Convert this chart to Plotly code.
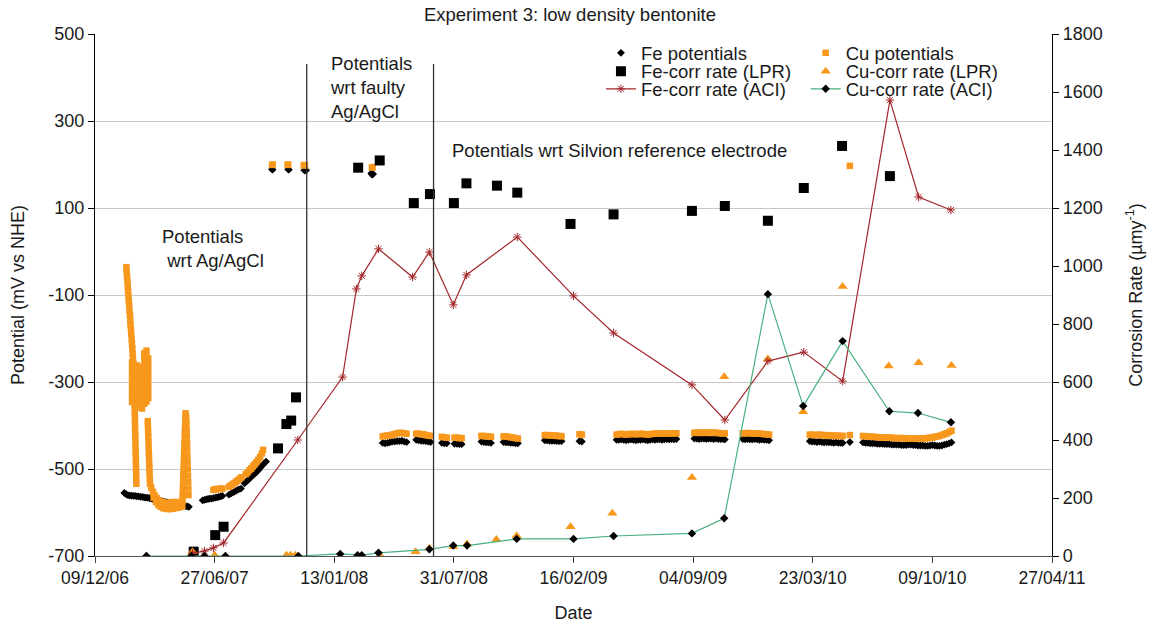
import pandas as pd
import plotly.graph_objects as go

# Day 0 of the potential logs = first date on the time axis (09/12/06)
LOG_ORIGIN = pd.Timestamp("2006-12-09")

# ---------------- Electrode potentials, (day, mV vs NHE) ----------------
# Fe electrode, measured against Ag/AgCl
FE_POT_AGCL = [
    (49, -555), (52, -558), (55, -560), (58, -561), (61, -561), (64, -562), (67, -562),
    (70, -563), (73, -563), (76, -564), (79, -564), (82, -565), (85, -566), (88, -566),
    (91, -567), (94, -568), (97, -569), (100, -570), (103, -571), (106, -572), (109, -573),
    (112, -574), (115, -575), (118, -576), (121, -577), (124, -578), (127, -578), (130, -579),
    (133, -580), (136, -581), (139, -581), (142, -582), (145, -583), (148, -584), (151, -585),
    (154, -586), (157, -587),
    (180, -572), (183, -571), (186, -570), (189, -569), (192, -568), (195, -568), (198, -567),
    (201, -566), (204, -565), (207, -564), (210, -563), (213, -562),
    (224, -559), (228, -556), (232, -553), (236, -550), (240, -547), (244, -545),
    (250, -533), (253, -529), (256, -525), (259, -521), (262, -517), (265, -513), (268, -510),
    (271, -506), (274, -501), (277, -496), (280, -491), (283, -487), (286, -483),
]
# Fe electrode, faulty Ag/AgCl reference
FE_POT_FAULTY = [
    (296, 189), (297, 188), (323, 189), (324, 188), (350, 187), (351, 186), (353, 187),
    (462, 180), (463, 177), (465, 178),
]
# Fe electrode, Silvion reference
FE_POT_SILVION = [
    (481, -440), (485, -441), (489, -440), (493, -439), (497, -437), (501, -437), (505, -436),
    (509, -436), (513, -435), (517, -437), (521, -438),
    (537, -433), (541, -434), (545, -435), (549, -435), (553, -436), (557, -437), (561, -438),
    (580, -440), (584, -441), (588, -441),
    (601, -442), (605, -442), (609, -443), (613, -443),
    (646, -437), (650, -438), (654, -439), (658, -439), (662, -440),
    (683, -438), (687, -439), (691, -439), (695, -440), (699, -440), (703, -441), (707, -441),
    (752, -434), (756, -434), (760, -435), (764, -435), (768, -435), (772, -436), (776, -436),
    (780, -436),
    (810, -436), (814, -437),
    (872, -433), (876, -433), (880, -432), (884, -433), (888, -434), (892, -433), (896, -432),
    (900, -433), (904, -434), (908, -433), (912, -433), (916, -432), (920, -433), (924, -434),
    (928, -433), (932, -432), (936, -433), (940, -432), (944, -432), (948, -433), (952, -432),
    (956, -431), (960, -432), (964, -431), (968, -432), (972, -431),
    (1002, -430), (1006, -430), (1010, -431), (1014, -430), (1018, -430), (1022, -431),
    (1026, -430), (1030, -430), (1034, -431), (1038, -430), (1042, -431), (1046, -431),
    (1050, -431), (1053, -432),
    (1083, -431), (1087, -432), (1091, -431), (1095, -432), (1099, -432), (1103, -431),
    (1107, -432), (1111, -433), (1115, -432), (1119, -433), (1123, -433), (1127, -434),
    (1195, -436), (1199, -437), (1203, -437), (1207, -438), (1211, -437), (1215, -438),
    (1219, -439), (1223, -438), (1227, -439), (1231, -439), (1235, -440), (1239, -439),
    (1243, -440), (1247, -440), (1250, -440),
    (1262, -438),
    (1284, -439), (1288, -440), (1292, -440), (1296, -441), (1300, -441), (1304, -441),
    (1308, -442), (1312, -442), (1316, -442), (1320, -443), (1324, -443), (1328, -443),
    (1332, -444), (1336, -444), (1340, -444), (1344, -444), (1348, -445), (1352, -445),
    (1356, -445), (1360, -444), (1364, -444), (1368, -445), (1372, -445), (1376, -446),
    (1380, -446), (1384, -446), (1388, -447), (1392, -447), (1396, -446), (1400, -445),
    (1404, -446), (1408, -447), (1412, -447), (1416, -446), (1420, -444), (1424, -443),
    (1428, -441), (1432, -439),
]

# Cu electrode, measured against Ag/AgCl (hourly logging in the first months)
CU_POT_AGCL = [
    (52.5, -36), (53.0, -47), (53.6, -58), (54.2, -69), (54.8, -80), (55.3, -91), (55.9, -102),
    (56.5, -113), (57.1, -124), (57.7, -135), (58.3, -146), (58.9, -157), (59.4, -168),
    (60.0, -179), (60.6, -190), (61.2, -201), (61.8, -212), (62.4, -223), (62.9, -234),
    (63.5, -245),
    (64.5, -258), (64.8, -270), (65.0, -282), (65.2, -294), (65.4, -306), (65.6, -318),
    (65.8, -330), (66.0, -342), (66.2, -354), (66.4, -366), (66.6, -378), (66.8, -390),
    (67.0, -402), (67.2, -414), (67.4, -426), (67.6, -438), (67.8, -450), (68.0, -462),
    (68.2, -474), (68.4, -486), (68.6, -498), (68.8, -510), (69.0, -522), (69.2, -534),
    (62, -255), (62, -268), (62, -281), (62, -294), (62, -307), (62, -320), (62, -333), (62, -346),
    (70.5, -262), (70.5, -275), (70.5, -288), (70.5, -301), (70.5, -314), (70.5, -327),
    (70.5, -340), (70.5, -352),
    (74.5, -266), (74.5, -279), (74.5, -292), (74.5, -305), (74.5, -318), (74.5, -331),
    (74.5, -344), (74.5, -357),
    (78.5, -270), (78.5, -283), (78.5, -296), (78.5, -309), (78.5, -322), (78.5, -335),
    (78.5, -348), (78.5, -361),
    (82.5, -234), (82.5, -247), (82.5, -260), (82.5, -273), (82.5, -286), (82.5, -299),
    (82.5, -312), (82.5, -325), (82.5, -338), (82.5, -350),
    (86, -228), (86, -241), (86, -254), (86, -267), (86, -280), (86, -293), (86, -306),
    (86, -319), (86, -332), (86, -345),
    (89, -246), (89, -259), (89, -272), (89, -285), (89, -298), (89, -311), (89, -324), (89, -337),
    (88.2, -390), (88.5, -402), (88.8, -414), (89.1, -426), (89.4, -438), (89.7, -450),
    (90.0, -462), (90.3, -474), (90.6, -486), (90.9, -498), (91.2, -510), (91.6, -522),
    (92.0, -534),
    (94, -543), (97, -553), (100, -561), (103, -567), (107, -572), (111, -575), (115, -577),
    (119, -578), (123, -578), (127, -577), (131, -576), (135, -576), (139, -577), (143, -578),
    (98, -566), (102, -576), (106, -583), (110, -587), (114, -590), (118, -591), (122, -592),
    (126, -592), (130, -591), (134, -590), (138, -589), (142, -588),
    (146.0, -585), (146.3, -573), (146.6, -561), (146.9, -549), (147.2, -537), (147.5, -525),
    (147.8, -513), (148.1, -501), (148.4, -489), (148.7, -477), (149.0, -465), (149.3, -453),
    (149.6, -441), (149.9, -429), (150.2, -417), (150.5, -405), (150.8, -393), (151.1, -381),
    (151.4, -372),
    (152.5, -380), (153.0, -395), (153.3, -410), (153.6, -425), (153.9, -440), (154.2, -455),
    (154.5, -470), (154.8, -485), (155.1, -500), (155.4, -515), (155.7, -530), (156.0, -545),
    (156.3, -560),
    (198, -548), (201, -547), (204, -546), (207, -546), (210, -545), (213, -545),
    (224, -541), (227, -538), (230, -535), (233, -532), (236, -529), (239, -526), (242, -522),
    (245, -519),
    (252, -512), (255, -508), (258, -503), (261, -499), (264, -494), (267, -489), (270, -484),
    (273, -479), (276, -472), (279, -464), (281, -456),
]
# Cu electrode, faulty Ag/AgCl reference
CU_POT_FAULTY = [
    (296, 199), (297, 200), (322, 199), (323, 200), (349, 198), (350, 199), (351, 198),
    (463, 193), (464, 194),
]
# Cu electrode, Silvion reference
CU_POT_SILVION = [
    (481, -425), (485, -424), (489, -423), (493, -423), (497, -421), (501, -420), (505, -418),
    (509, -417), (513, -417), (517, -418), (521, -419),
    (537, -419), (541, -419), (545, -420), (549, -420), (553, -422), (557, -423), (561, -424),
    (580, -426), (584, -427), (588, -428),
    (601, -428), (605, -428), (609, -429), (613, -429),
    (646, -424), (650, -424), (654, -425), (658, -425), (662, -426),
    (683, -425), (687, -425), (691, -426), (695, -427), (699, -428), (703, -429), (707, -430),
    (752, -422), (756, -422), (760, -423), (764, -423), (768, -423), (772, -424), (776, -424),
    (780, -425),
    (810, -420), (814, -421),
    (872, -421), (876, -420), (880, -419), (884, -420), (888, -421), (892, -420), (896, -419),
    (900, -420), (904, -420), (908, -419), (912, -420), (916, -419), (920, -420), (924, -421),
    (928, -420), (932, -419), (936, -419), (940, -418), (944, -419), (948, -419), (952, -418),
    (956, -418), (960, -419), (964, -418), (968, -418), (972, -418),
    (1002, -417), (1006, -416), (1010, -417), (1014, -417), (1018, -416), (1022, -416),
    (1026, -417), (1030, -417), (1034, -416), (1038, -417), (1042, -417), (1046, -418),
    (1050, -418), (1053, -418),
    (1083, -418), (1087, -418), (1091, -417), (1095, -418), (1099, -418), (1103, -419),
    (1107, -418), (1111, -419), (1115, -419), (1119, -420), (1123, -420), (1127, -421),
    (1195, -421), (1199, -421), (1203, -422), (1207, -422), (1211, -421), (1215, -422),
    (1219, -423), (1223, -422), (1227, -423), (1231, -423), (1235, -424), (1239, -423),
    (1243, -424), (1247, -424), (1250, -424),
    (1262, -422), (1262, 197),
    (1284, -424), (1288, -425), (1292, -425), (1296, -426), (1300, -426), (1304, -426),
    (1308, -427), (1312, -427), (1316, -427), (1320, -428), (1324, -428), (1328, -428),
    (1332, -428), (1336, -429), (1340, -429), (1344, -429), (1348, -429), (1352, -429),
    (1356, -430), (1360, -430), (1364, -430), (1368, -430), (1372, -430), (1376, -430),
    (1380, -430), (1384, -430), (1388, -430), (1392, -429), (1396, -428), (1400, -428),
    (1404, -426), (1408, -425), (1412, -424), (1416, -422), (1420, -420), (1424, -418),
    (1428, -415), (1432, -412),
]

# ---------------- Corrosion rates (µm/y) ----------------
FE_LPR_DATES = [
    "2007-05-23", "2007-06-28", "2007-07-12", "2007-10-11", "2007-10-25", "2007-11-02",
    "2007-11-10", "2008-02-22", "2008-03-29", "2008-05-25", "2008-06-21", "2008-07-31",
    "2008-08-21", "2008-10-11", "2008-11-14", "2009-02-11", "2009-04-24", "2009-09-02",
    "2009-10-27", "2010-01-07", "2010-03-08", "2010-05-11", "2010-07-30",
]
FE_LPR = [15, 72, 101, 371, 455, 467, 547, 1339, 1364, 1217, 1248, 1217,
          1285, 1277, 1253, 1145, 1178, 1190, 1207, 1156, 1269, 1414, 1310]

CU_LPR_DATES = [
    "2007-03-05", "2007-05-21", "2007-06-27", "2007-10-25", "2007-11-01", "2007-11-09",
    "2008-02-21", "2008-03-29", "2008-05-28", "2008-06-20", "2008-07-30", "2008-08-22",
    "2008-10-10", "2008-11-13", "2009-02-11", "2009-04-22", "2009-09-02", "2009-10-26",
    "2010-01-07", "2010-03-07", "2010-05-12", "2010-07-28", "2010-09-16", "2010-11-10",
]
CU_LPR = [0, 15, 3, 3, 3, 3, 0, 3, 15, 27, 32, 41,
          57, 70, 101, 147, 271, 618, 679, 497, 929, 655, 666, 657]

FE_ACI_DATES = [
    "2007-05-21", "2007-06-10", "2007-06-25", "2007-07-12", "2007-11-13", "2008-01-27",
    "2008-02-19", "2008-02-28", "2008-03-27", "2008-05-23", "2008-06-20", "2008-07-30",
    "2008-08-21", "2008-11-14", "2009-02-16", "2009-04-24", "2009-09-02", "2009-10-27",
    "2010-01-07", "2010-03-08", "2010-05-12", "2010-07-30", "2010-09-16", "2010-11-09",
]
FE_ACI = [10, 17, 28, 45, 400, 617, 921, 966, 1059, 962, 1048, 866,
          969, 1100, 897, 769, 590, 469, 672, 703, 603, 1572, 1238, 1193]

CU_ACI_DATES = [
    "2007-03-05", "2007-05-19", "2007-06-10", "2007-07-15", "2007-11-14", "2008-01-23",
    "2008-02-21", "2008-02-28", "2008-03-27", "2008-06-20", "2008-07-30", "2008-08-22",
    "2008-11-13", "2009-02-16", "2009-04-24", "2009-09-02", "2009-10-26", "2010-01-07",
    "2010-03-07", "2010-05-12", "2010-07-29", "2010-09-15", "2010-11-09",
]
CU_ACI = [0, 0, 0, 0, 0, 7, 3, 3, 11, 23, 36, 36,
          59, 59, 69, 78, 130, 903, 517, 741, 499, 493, 461]

# Dates at which the reference electrode was changed
REFERENCE_CHANGES = ["2007-11-28", "2008-06-27"]

X_TICK_DATES = ["2006-12-09", "2007-06-27", "2008-01-13", "2008-07-31", "2009-02-16",
                "2009-09-04", "2010-03-23", "2010-10-09", "2011-04-27"]
X_TICK_LABELS = ["09/12/06", "27/06/07", "13/01/08", "31/07/08", "16/02/09",
                 "04/09/09", "23/03/10", "09/10/10", "27/04/11"]
Y_TICKS = [-700, -500, -300, -100, 100, 300, 500]
Y_TICK_LABELS = ["-700", "-500", "-300", "-100", "100", "300", "500"]

FONT = "Liberation Sans, Arial, sans-serif"
TEXT = "#1a1a1a"
ORANGE = "#F7981D"
DARK_RED = "#A3262A"
GREEN = "#48B07E"


def log_xy(*segments):
    pairs = [p for seg in segments for p in seg]
    days = [p[0] for p in pairs]
    vals = [p[1] for p in pairs]
    return LOG_ORIGIN + pd.to_timedelta(days, unit="D"), vals


fig = go.Figure()

fe_x, fe_y = log_xy(FE_POT_AGCL, FE_POT_FAULTY, FE_POT_SILVION)
cu_x, cu_y = log_xy(CU_POT_AGCL, CU_POT_FAULTY, CU_POT_SILVION)

fig.add_trace(go.Scatter(
    x=fe_x, y=fe_y, mode="markers", name="Fe potentials", legend="legend",
    marker=dict(symbol="diamond", size=6, color="black"),
))
fig.add_trace(go.Scatter(
    x=cu_x, y=cu_y, mode="markers", name="Cu potentials", legend="legend2",
    marker=dict(symbol="square", size=6.5, color=ORANGE),
))
fig.add_trace(go.Scatter(
    x=FE_LPR_DATES, y=FE_LPR, mode="markers", name="Fe-corr rate (LPR)", yaxis="y2",
    legend="legend3", marker=dict(symbol="square", size=10, color="black"),
))
fig.add_trace(go.Scatter(
    x=CU_LPR_DATES, y=CU_LPR, mode="markers", name="Cu-corr rate (LPR)", yaxis="y2",
    legend="legend4", marker=dict(symbol="triangle-up", size=9, color=ORANGE),
))
fig.add_trace(go.Scatter(
    x=FE_ACI_DATES, y=FE_ACI, mode="lines+markers", name="Fe-corr rate (ACI)", yaxis="y2",
    legend="legend5", line=dict(color=DARK_RED, width=1.2),
    marker=dict(symbol="asterisk-open", size=7, color=DARK_RED, line=dict(width=1, color=DARK_RED)),
))
fig.add_trace(go.Scatter(
    x=CU_ACI_DATES, y=CU_ACI, mode="lines+markers", name="Cu-corr rate (ACI)", yaxis="y2",
    legend="legend6", line=dict(color=GREEN, width=1.2),
    marker=dict(symbol="diamond", size=6.5, color="black"),
))

for d in REFERENCE_CHANGES:
    fig.add_shape(type="line", xref="x", yref="y", x0=d, x1=d, y0=-700, y1=431,
                  line=dict(color="#333333", width=1.3))

ann_font = dict(family=FONT, size=18.5, color=TEXT)
fig.add_annotation(text="Potentials<br>\u00a0wrt Ag/AgCl", xref="paper", yref="paper",
                   x=0.0679, y=0.5891, xanchor="left", yanchor="middle", align="left",
                   showarrow=False, font=ann_font)
fig.add_annotation(text="Potentials<br>wrt faulty<br>Ag/AgCl", xref="paper", yref="paper",
                   x=0.2438, y=0.8979, xanchor="left", yanchor="middle", align="left",
                   showarrow=False, font=ann_font)
fig.add_annotation(text="Potentials wrt Silvion reference electrode", xref="paper", yref="paper",
                   x=0.3710, y=0.7759, xanchor="left", yanchor="middle", align="left",
                   showarrow=False, font=ann_font)

legend_common = dict(xanchor="left", yanchor="middle", bgcolor="rgba(0,0,0,0)",
                     borderwidth=0, font=dict(family=FONT, size=18.5, color=TEXT))
col_fe, col_cu = 0.5287, 0.7426
row_y = [0.9630, 0.9278, 0.8941]

fig.update_layout(
    width=1152, height=628,
    margin=dict(l=95, r=100, t=34, b=72, autoexpand=False),
    paper_bgcolor="white", plot_bgcolor="white",
    font=dict(family=FONT, size=18, color=TEXT),
    showlegend=True,
    title=dict(text="Experiment 3: low density bentonite", xref="paper", x=0.4963,
               xanchor="center", yref="container", y=1 - 15 / 628, yanchor="middle",
               font=dict(family=FONT, size=18.5, color=TEXT)),
    xaxis=dict(
        type="date", range=["2006-12-09", "2011-04-27"],
        tickvals=X_TICK_DATES, ticktext=X_TICK_LABELS,
        ticks="outside", ticklen=6, tickcolor="#444444",
        showline=True, linecolor="#555555", linewidth=1.3,
        showgrid=False, zeroline=False, automargin=False,
        tickfont=dict(size=17.5),
        title=dict(text="Date", standoff=19, font=dict(size=18)),
    ),
    yaxis=dict(
        range=[-700, 500], tickvals=Y_TICKS, ticktext=Y_TICK_LABELS,
        ticks="outside", ticklen=6, tickcolor="black",
        showline=True, linecolor="black", linewidth=1.3,
        showgrid=True, gridcolor="#C8C8C8", gridwidth=1.2, zeroline=False, automargin=False,
        title=dict(text="Potential (mV vs NHE)", standoff=18, font=dict(size=18)),
    ),
    yaxis2=dict(
        range=[0, 1800], dtick=200, overlaying="y", side="right",
        ticks="outside", ticklen=6, tickcolor="black",
        showline=True, linecolor="black", linewidth=1.3,
        showgrid=False, zeroline=False, automargin=False,
        title=dict(text="Corrosion Rate (µmy<sup>-1</sup>)", standoff=27, font=dict(size=18)),
    ),
    legend=dict(x=col_fe, y=row_y[0], **legend_common),
    legend2=dict(x=col_cu, y=row_y[0], **legend_common),
    legend3=dict(x=col_fe, y=row_y[1], **legend_common),
    legend4=dict(x=col_cu, y=row_y[1], **legend_common),
    legend5=dict(x=col_fe, y=row_y[2], **legend_common),
    legend6=dict(x=col_cu, y=row_y[2], **legend_common),
)

fig.write_html("out.html")
